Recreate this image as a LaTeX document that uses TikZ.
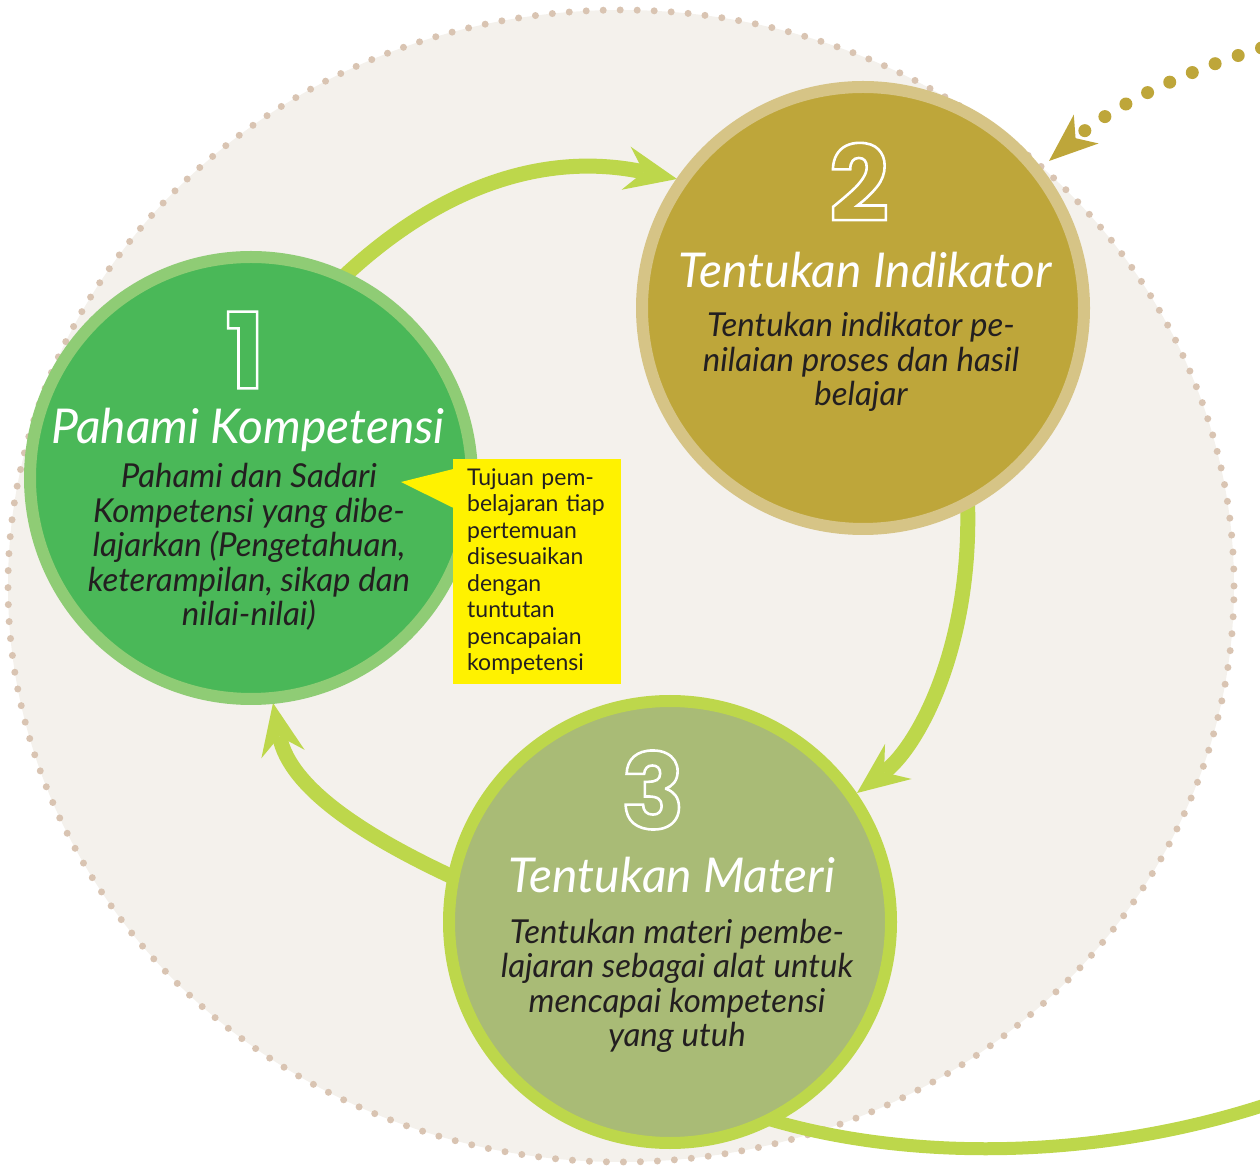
\documentclass[tikz,border=0pt]{standalone}
\usepackage{fontspec}
\setmainfont{Lato}
\newfontfamily\numfont{Poppins}
\usetikzlibrary{arrows.meta,positioning,calc}
\definecolor{bgbeige}{HTML}{F4F1EC}
\definecolor{dotbeige}{HTML}{D9C4B2}
\definecolor{lime}{HTML}{BDD74B}
\definecolor{leaf}{HTML}{4AB858}
\definecolor{leafring}{HTML}{8FCC75}
\definecolor{olive}{HTML}{BEA63A}
\definecolor{olivering}{HTML}{D6C486}
\definecolor{sage}{HTML}{A9BB76}
\definecolor{ink}{HTML}{231F20}
\definecolor{notebg}{HTML}{FFF200}
% outlined digit: stroke only, white
\newcommand{\outlinenum}[1]{\special{pdf:literal direct 1 Tr 2.6 w 1 1 1 RG}#1\special{pdf:literal direct 0 Tr}}

\begin{document}
\begin{tikzpicture}[
        x=1pt, y=1pt,
        >={Stealth[length=52pt, width=44pt, inset=18pt, line width=0pt]},
        bubble/.style={circle, line width=12pt, minimum size=442pt, inner sep=0pt},
        flow/.style={->, draw=lime, line width=15pt},
        num/.style={inner sep=0pt, font=\numfont\bfseries\fontsize{105}{105}\selectfont},
        title/.style={text=white, font=\itshape\fontsize{48}{52}\selectfont},
        body/.style={text=ink, align=center, font=\itshape\fontsize{33}{34.5}\selectfont},
        note/.style={fill=notebg, text=ink, anchor=north west, align=left, text width=140pt,
            inner xsep=14pt, inner ysep=0pt, minimum height=225pt, font=\fontsize{23}{26.5}\selectfont},
    ]
        \useasboundingbox (0,0) rectangle (1260,1165);
        
        % --- background ring of dots ---
        \draw[fill=bgbeige, draw=dotbeige, line width=7pt, line cap=round, dash pattern=on 0pt off 17pt]
            (621,579) ellipse [x radius=613, y radius=576];
        
        % --- circle centres ---
        \coordinate (p1) at (251,687);
        \coordinate (p2) at (863,857);
        \coordinate (p3) at (670,243);
        
        % cycle arrows (drawn below the circles)
        \draw[flow] (330,875) .. controls (430,975) and (540,1015) .. (677,986);
        \draw[flow] (967,675) .. controls (975,525) and (920,420) .. (857,372);
        \draw[flow] (470,280) .. controls (370,325) and (290,375) .. (273,462);
        
        % outgoing line at the bottom
        \draw[draw=lime, line width=13pt] (740,55) .. controls (880,5) and (1080,0) .. (1265,60);
        
        % --- the three circles ---
        \node[bubble, fill=leaf, draw=leafring] (c1) at (p1) {};
        \node[bubble, fill=olive, draw=olivering] (c2) at (p2) {};
        \node[bubble, fill=sage, draw=lime] (c3) at (p3) {};
        
        % circle 1
        \node[num] (n1) at ($(c1)+(-6,128)$) {\outlinenum{1}};
        \node[title] (t1) at ($(c1)+(-3,48)$) {Pahami Kompetensi};
        \node[body] (b1) at ($(c1)+(-2,-69)$) {Pahami dan Sadari\\Kompetensi yang dibe-\\lajarkan (Pengetahuan,\\keterampilan, sikap dan\\nilai-nilai)};
        
        % circle 2
        \node[num] (n2) at ($(c2)+(-4,126)$) {\outlinenum{2}};
        \node[title] (t2) at ($(c2)+(2,38)$) {Tentukan Indikator};
        \node[body] (b2) at ($(c2)+(-2,-54)$) {Tentukan indikator pe-\\nilaian proses dan hasil\\belajar};
        
        % circle 3
        \node[num] (n3) at ($(c3)+(-17,132)$) {\outlinenum{3}};
        \node[title] (t3) at ($(c3)+(2,47)$) {Tentukan Materi};
        \node[body] (b3) at ($(c3)+(7,-64)$) {Tentukan materi pembe-\\lajaran sebagai alat untuk\\mencapai kompetensi\\yang utuh};
        
        % --- yellow note ---
        \node[note] (tip) at (453,706) {Tujuan pem-\\belajaran tiap\\pertemuan\\disesuaikan\\dengan\\tuntutan\\pencapaian\\kompetensi};
        \coordinate (ptr) at (401,683);
        \fill[notebg] ($(tip.north west)+(0.5,-10)$) -- (ptr) -- ($(tip.north west)+(0.5,-49)$) -- cycle;
        
        % --- dotted arrow coming in from the top right ---
        \draw[->, >={Stealth[length=49pt, width=38pt, inset=14pt, line width=0pt]}, draw=olive,
            line width=13pt, line cap=round, dash pattern=on 0pt off 24.5pt]
            (1285,1124) .. controls (1200,1100) and (1120,1065) .. (1049,1004);
        
        \end{tikzpicture}
\end{document}
